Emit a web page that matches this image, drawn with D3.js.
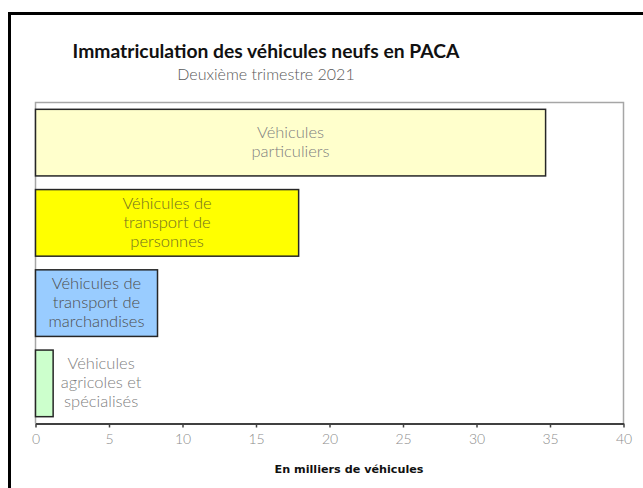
<!DOCTYPE html>
<html>
<head>
<meta charset="utf-8">
<script src="https://cdn.jsdelivr.net/npm/d3@7"></script>
<style>
  body { margin: 0; background: #fff; }
  svg { display: block; }
</style>
</head>
<body>
<svg id="svg" width="643" height="488"></svg>
<script>
// data
var categories = ['particuliers', 'personnes', 'marchandises', 'agricoles'];
var labels = [
    ['Véhicules', 'particuliers'],
    ['Véhicules de', 'transport de', 'personnes'],
    ['Véhicules de', 'transport de', 'marchandises'],
    ['Véhicules', 'agricoles et', 'spécialisés']
];
var values = [34.7, 17.9, 8.3, 1.2];
var xTicks = [0, 5, 10, 15, 20, 25, 30, 35, 40];

var fills = ['#ffffcc', '#ffff00', '#99ccff', '#ccffcc'];
var labelColors = ['#808080', '#6e6e22', '#4d4d4d', '#808080'];

var svg = d3.select('svg');
var font = 'Lato, sans-serif';

// outer frame (runs off the right and bottom edge)
svg.append('rect')
    .attr('x', 9.5).attr('y', 13.5)
    .attr('width', 700).attr('height', 600)
    .attr('fill', 'none')
    .attr('stroke', '#000')
    .attr('stroke-width', 3);

svg.append('text')
    .attr('x', 266).attr('y', 58)
    .attr('text-anchor', 'middle')
    .attr('font-family', font)
    .attr('font-weight', 700)
    .attr('font-size', 19.3)
    .attr('fill', '#111')
    .text('Immatriculation des véhicules neufs en PACA');

svg.append('text')
    .attr('x', 266).attr('y', 80)
    .attr('text-anchor', 'middle')
    .attr('font-family', font)
    .attr('font-weight', 300)
    .attr('font-size', 16)
    .attr('fill', '#595959')
    .text('Deuxième trimestre 2021');

var x = d3.scaleLinear()
    .domain([0, 40])
    .range([35.5, 623.5]);

var y = d3.scaleBand()
    .domain(categories)
    .range([102.5, 423.5])
    .paddingInner(0.17)
    .paddingOuter(0.085);

// plot area frame
svg.append('path')
    .attr('d', 'M' + x(0) + ',423.5V102.5H' + x(40) + 'V423.5')
    .attr('fill', 'none')
    .attr('stroke', '#a6a6a6')
    .attr('stroke-width', 1.5);

svg.selectAll('.bar')
    .data(values)
    .enter()
    .append('rect')
    .attr('class', 'bar')
    .attr('x', x(0))
    .attr('y', function(d, i){ return y(categories[i]); })
    .attr('width', function(d){ return x(d) - x(0); })
    .attr('height', y.bandwidth())
    .attr('fill', function(d, i){ return fills[i]; })
    .attr('stroke', '#262626')
    .attr('stroke-width', 1.5);

// labels: centred in the bar, or beside it when the bar is too short
var lineH = 19;
labels.forEach(function(lines, i){
    var v = values[i];
    var cx = (x(v) - x(0)) > 90 ? (x(0) + x(v)) / 2 : x(v) + 48;
    var cy = y(categories[i]) + y.bandwidth() / 2;
    var t = svg.append('text')
        .attr('text-anchor', 'middle')
        .attr('font-family', font)
        .attr('font-weight', 300)
        .attr('font-size', 16.5)
        .attr('fill', labelColors[i]);
    lines.forEach(function(s, j){
        t.append('tspan')
            .attr('x', cx)
            .attr('y', cy + (j - (lines.length - 1) / 2) * lineH + 5)
            .text(s);
    });
});

var xAxis = svg.append('g')
    .attr('transform', 'translate(0,423.5)')
    .call(d3.axisBottom(x).tickValues(xTicks).tickSize(4).tickSizeOuter(0).tickPadding(7));

xAxis.select('.domain').attr('stroke', '#404040').attr('stroke-width', 2);
xAxis.selectAll('.tick line').attr('stroke', '#404040').attr('stroke-width', 1.5);
xAxis.selectAll('.tick text')
    .attr('font-family', font)
    .attr('font-weight', 300)
    .attr('font-size', 14)
    .attr('fill', '#8c8c8c');

svg.append('text')
    .attr('x', 349).attr('y', 473)
    .attr('text-anchor', 'middle')
    .attr('font-family', '"DejaVu Sans", sans-serif')
    .attr('font-weight', 700)
    .attr('font-size', 11.2)
    .attr('fill', '#111')
    .text('En milliers de véhicules');
</script>
</body>
</html>
